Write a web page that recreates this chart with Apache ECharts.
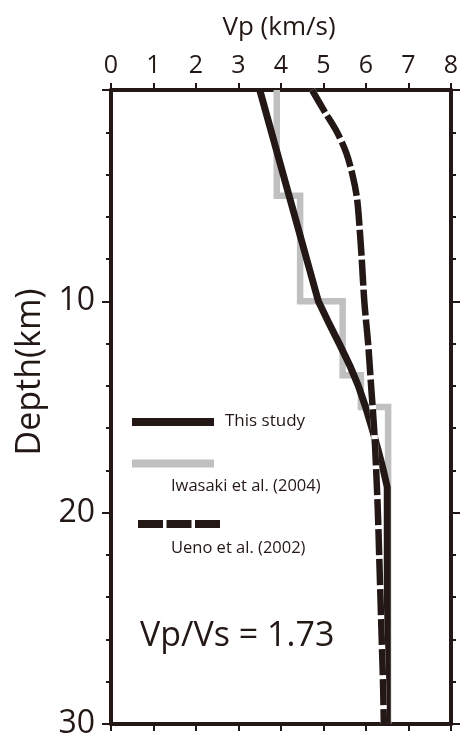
<!DOCTYPE html>
<html>
<head>
<meta charset="utf-8">
<script src="https://cdn.jsdelivr.net/npm/echarts@6/dist/echarts.min.js"></script>
<style>
html,body{margin:0;padding:0;background:#fff;}
#chart{width:465px;height:740px;}
</style>
</head>
<body>
<div id="chart"></div>
<script>
// ---- data ----
var xTicks = [0, 1, 2, 3, 4, 5, 6, 7, 8];
var depthTicks = [10, 20, 30];

var thisStudyDepth = [0, 5, 10, 11, 12, 13, 14, 15, 16, 17, 18, 18.8, 30];
var thisStudyVp    = [3.5, 4.19, 4.88, 5.12, 5.37, 5.61, 5.82, 5.99, 6.14, 6.28, 6.41, 6.5, 6.5];

var iwasakiDepth = [0, 5, 5, 10, 10, 13.5, 13.5, 15, 15, 30];
var iwasakiVp    = [3.9, 3.9, 4.45, 4.45, 5.45, 5.45, 5.88, 5.88, 6.52, 6.52];

var uenoDepth = [0, 1, 2, 3, 4, 5, 6, 8, 10, 12, 14, 16, 18, 20, 22, 24, 26, 28, 30];
var uenoVp    = [4.73, 5.02, 5.32, 5.54, 5.68, 5.78, 5.83, 5.9, 5.96, 6.05, 6.12, 6.19, 6.24, 6.28, 6.31, 6.34, 6.37, 6.4, 6.42];

var legendNames = ['This study', 'Iwasaki et al. (2004)', 'Ueno et al. (2002)'];
var ratioText = 'Vp/Vs = 1.73';

function pairs(vp, d) { return vp.map(function (v, i) { return [v, d[i]]; }); }

var INK = '#231815';
var GRAY = '#c0c0c0';
var FONT = 'Open Sans';

var chart = echarts.init(document.getElementById('chart'));

function xAxisCfg(pos, showLabel) {
  return {
    type: 'value', position: pos, min: 0, max: 8, interval: 1,
    axisLine: { show: true, onZero: false, lineStyle: { color: INK, width: 4 } },
    axisTick: { show: true, length: 7, lineStyle: { color: INK, width: 2 } },
    axisLabel: { show: showLabel, color: INK, fontSize: 25, fontFamily: FONT, margin: 12,
      formatter: function (v) { return xTicks.indexOf(v) >= 0 ? String(v) : ''; } },
    splitLine: { show: false }
  };
}
function yAxisCfg(pos, showLabel) {
  return {
    type: 'value', position: pos, inverse: true, min: 0, max: 30, interval: 10,
    axisLine: { show: true, onZero: false, lineStyle: { color: INK, width: 4 } },
    axisTick: { show: true, length: 9, lineStyle: { color: INK, width: 2 } },
    minorTick: { show: true, splitNumber: 5, length: 5, lineStyle: { color: INK, width: 2 } },
    axisLabel: { show: showLabel, color: INK, fontSize: 32, fontFamily: FONT, margin: 16,
      formatter: function (v) { return depthTicks.indexOf(v) >= 0 ? String(v) : ''; } },
    splitLine: { show: false }, minorSplitLine: { show: false }
  };
}

var legendX1 = 132, legendX2 = 214;

chart.setOption({
  animation: false,
  backgroundColor: '#fff',
  grid: { left: 111, right: 14, top: 90, bottom: 12 },
  xAxis: [xAxisCfg('top', true), xAxisCfg('bottom', false)],
  yAxis: [yAxisCfg('left', true), yAxisCfg('right', false)],
  series: [
    { name: legendNames[1], type: 'line', xAxisIndex: 0, yAxisIndex: 0, symbol: 'none',
      data: pairs(iwasakiVp, iwasakiDepth),
      lineStyle: { color: GRAY, width: 6.5, join: 'miter', cap: 'butt' }, z: 2 },
    { name: legendNames[0], type: 'line', xAxisIndex: 0, yAxisIndex: 0, symbol: 'none',
      data: pairs(thisStudyVp, thisStudyDepth),
      lineStyle: { color: INK, width: 7, join: 'round' }, z: 3 },
    { name: legendNames[2] + ' bg', type: 'line', xAxisIndex: 0, yAxisIndex: 0, symbol: 'none', smooth: 0.3,
      data: pairs(uenoVp, uenoDepth), silent: true,
      lineStyle: { color: '#ffffff', width: 6.5 }, z: 4 },
    { name: legendNames[2], type: 'line', xAxisIndex: 0, yAxisIndex: 0, symbol: 'none', smooth: 0.3,
      data: pairs(uenoVp, uenoDepth),
      lineStyle: { color: INK, width: 6.5, type: [26, 4], cap: 'butt' }, z: 5 }
  ],
  graphic: [
    { type: 'text', style: { text: 'Vp (km/s)', fill: INK, font: '26px "Open Sans"',
        x: 279, y: 28, align: 'center', verticalAlign: 'middle' } },
    { type: 'text', x: 30, y: 372, rotation: Math.PI / 2,
      style: { text: 'Depth(km)', fill: INK, font: '34px "Open Sans"', x: 0, y: 0, align: 'center', verticalAlign: 'middle' } },
    { type: 'line', shape: { x1: legendX1, y1: 422, x2: legendX2, y2: 422 }, style: { stroke: INK, lineWidth: 8 } },
    { type: 'text', style: { text: legendNames[0], x: 225, y: 421, fill: INK, font: '17px "Open Sans"', verticalAlign: 'middle' } },
    { type: 'line', shape: { x1: legendX1, y1: 463.5, x2: legendX2, y2: 463.5 }, style: { stroke: GRAY, lineWidth: 8 } },
    { type: 'text', style: { text: legendNames[1], x: 171, y: 486, fill: INK, font: '16.5px "Open Sans"', verticalAlign: 'middle' } },
    { type: 'line', shape: { x1: 138, y1: 524, x2: 220, y2: 524 }, style: { stroke: INK, lineWidth: 8, lineDash: [25, 3.5] } },
    { type: 'text', style: { text: legendNames[2], x: 171, y: 548, fill: INK, font: '16.5px "Open Sans"', verticalAlign: 'middle' } },
    { type: 'text', style: { text: ratioText, x: 140, y: 636, fill: INK, font: '34px "Open Sans"', verticalAlign: 'middle' } }
  ]
});
</script>
</body>
</html>
